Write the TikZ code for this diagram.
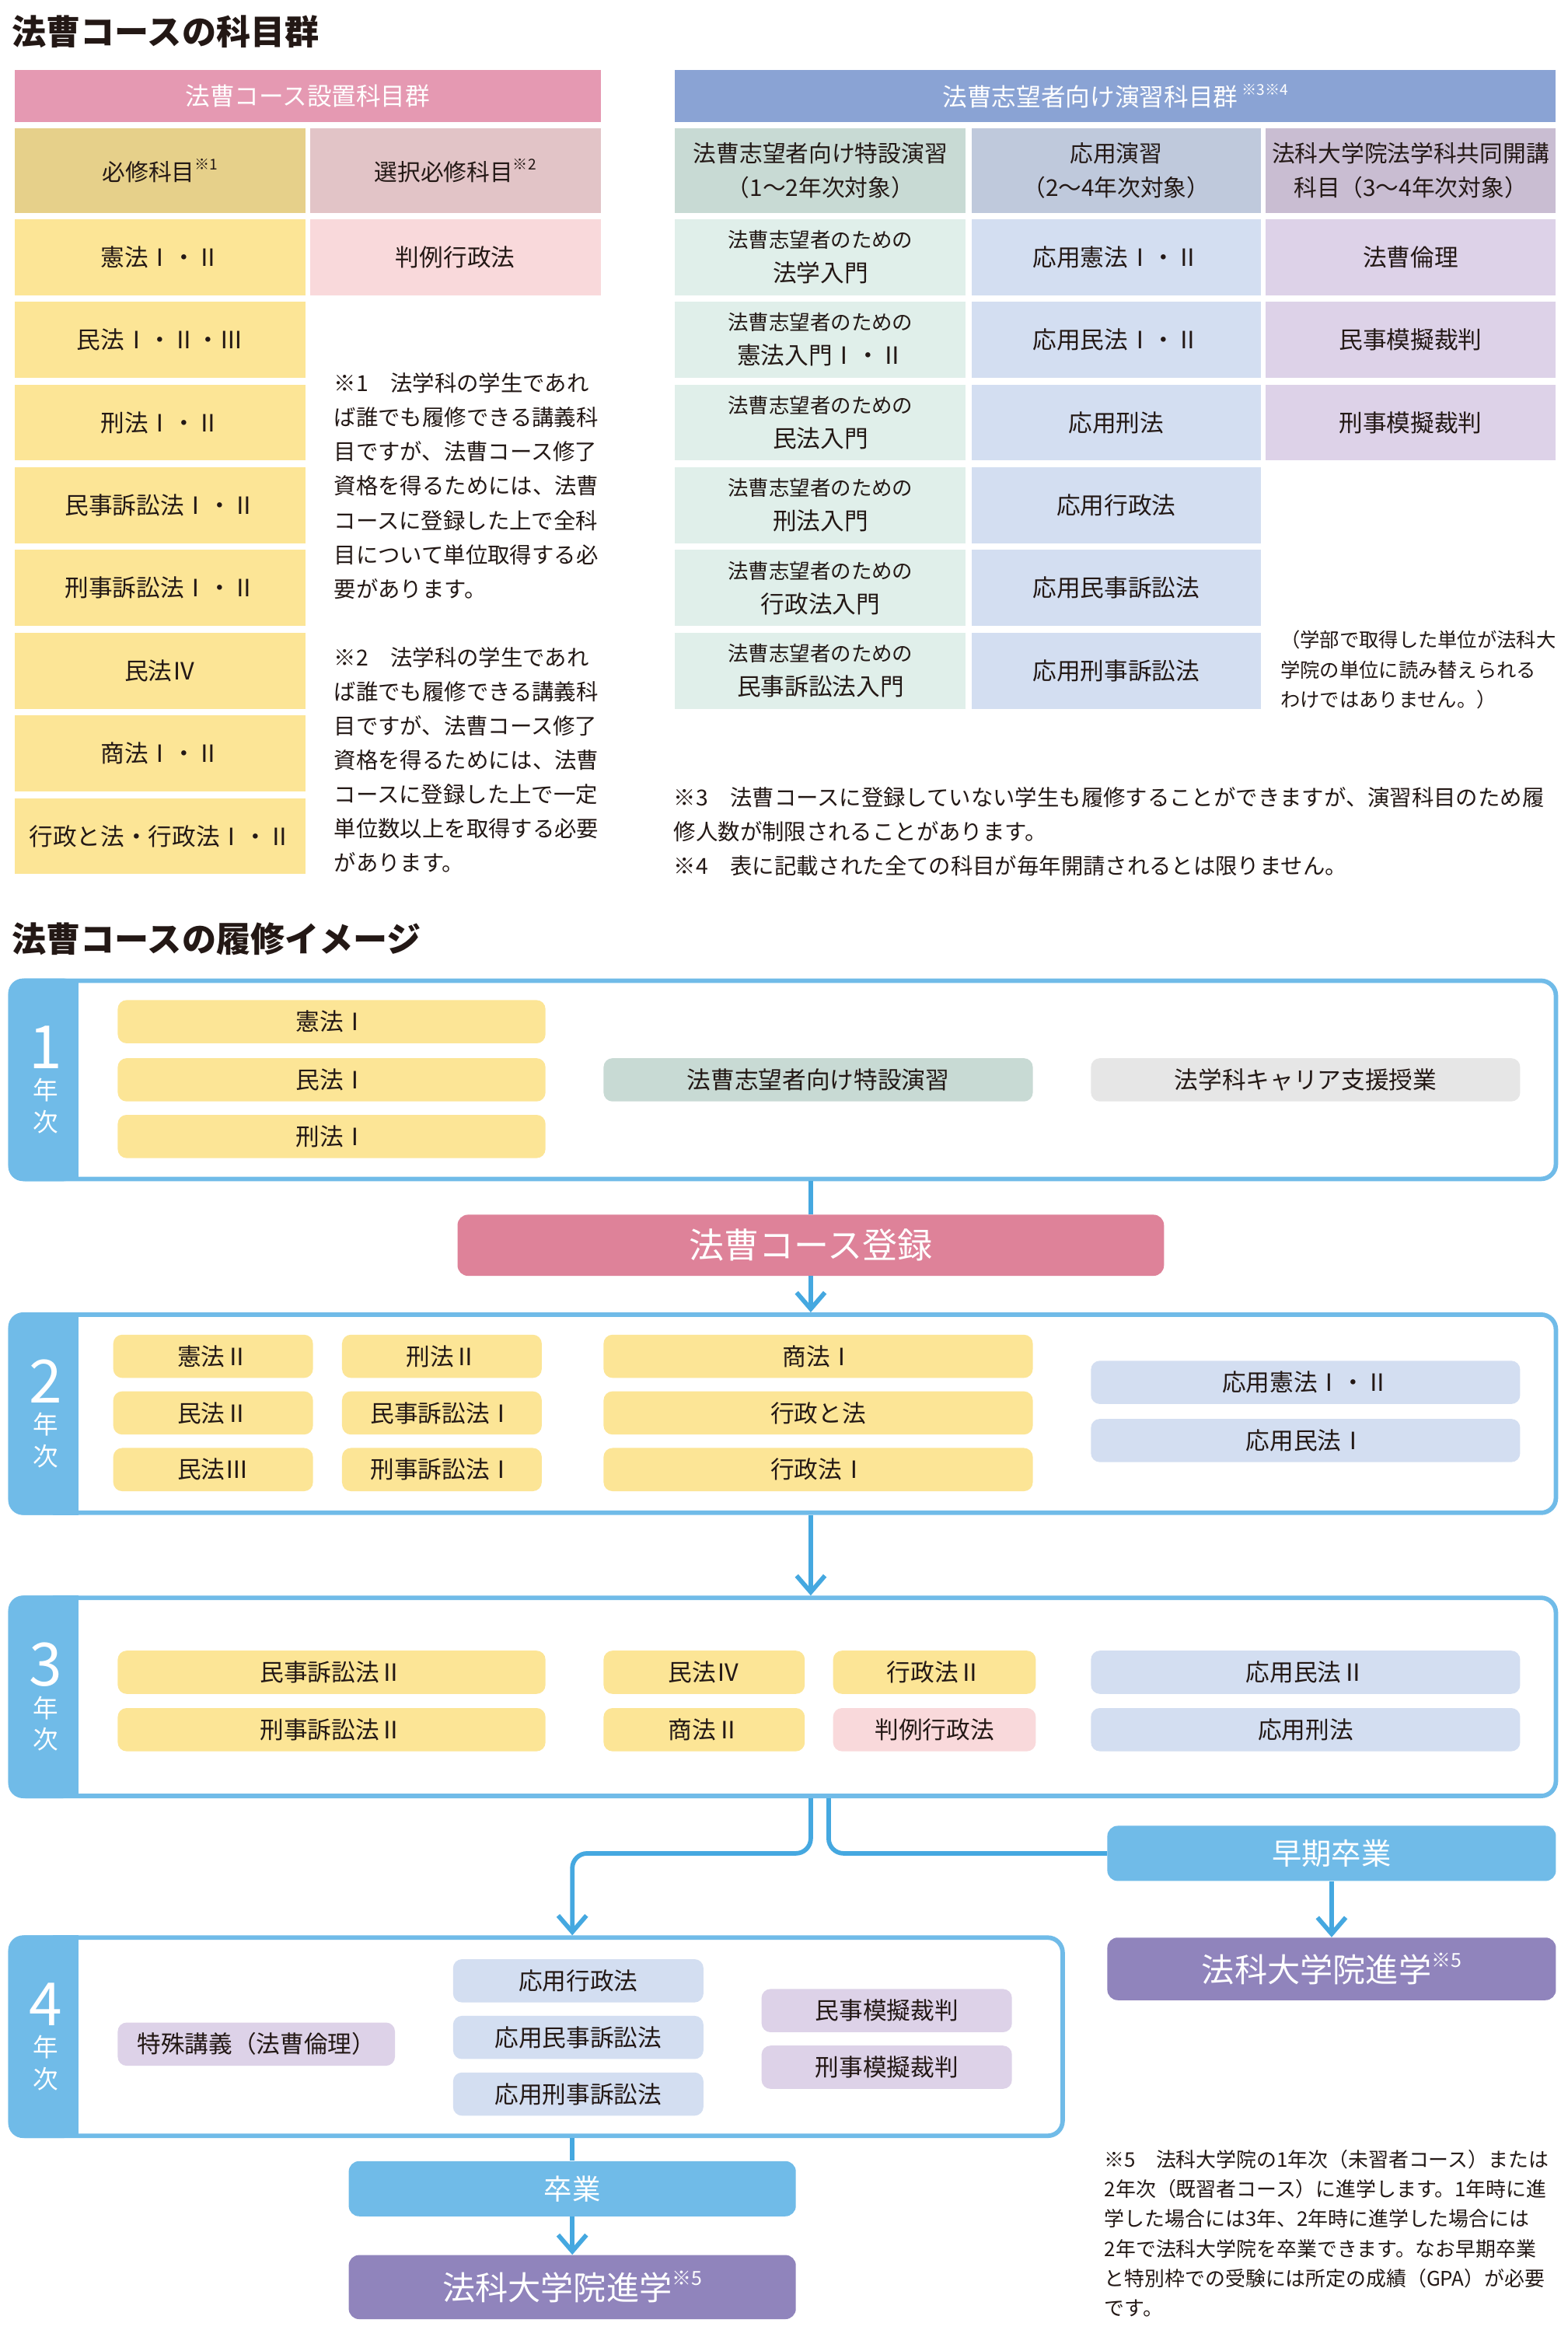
\documentclass[tikz,border=0pt]{standalone}
\usepackage{fontspec}
\setmainfont{Noto Sans CJK JP}
\usepackage{xcolor}
\usepackage{tikz}
\definecolor{ink}{HTML}{231815}
\definecolor{hdpink}{HTML}{E599B2}
\definecolor{hdblue}{HTML}{8AA3D4}
\definecolor{reqhead}{HTML}{E6D08A}
\definecolor{selhead}{HTML}{E2C4C7}
\definecolor{reqcell}{HTML}{FCE596}
\definecolor{selcell}{HTML}{F9D9DB}
\definecolor{enshead}{HTML}{C8DAD4}
\definecolor{apphead}{HTML}{BFC9DC}
\definecolor{jnthead}{HTML}{C9BDD2}
\definecolor{enscell}{HTML}{E0EFEA}
\definecolor{appcell}{HTML}{D3DEF1}
\definecolor{jntcell}{HTML}{DDD2E8}
\definecolor{careercell}{HTML}{E6E6E6}
\definecolor{band}{HTML}{70BBE8}
\definecolor{flowblue}{HTML}{45A8E0}
\definecolor{regpink}{HTML}{DE8299}
\definecolor{lspurple}{HTML}{9084BC}
\usetikzlibrary{arrows.meta, positioning, calc}
\newcommand{\noteref}[2][10]{\raisebox{.45em}{\fontsize{#1}{#1}\selectfont #2}}

\begin{document}
\begin{tikzpicture}[x=1pt, y=-1pt,
  every node/.style={text=ink, inner sep=0pt},
  hd/.style={text=white, minimum height=35pt, font=\fontsize{16.5}{20}\selectfont},
  cellhd/.style={minimum height=57pt, align=center, font=\fontsize{15.5}{23}\selectfont},
  cell/.style={minimum height=51pt, align=center, font=\fontsize{16}{23}\selectfont},
  note/.style={anchor=north west, align=left, font=\fontsize{14.8}{23}\selectfont},
  pill/.style={rounded corners=6pt, minimum height=29pt, font=\fontsize{16}{16}\selectfont},
  yearbox/.style={draw=band, line width=3pt, fill=white, rounded corners=10pt},
  yearlab/.style={text=white, align=center, font=\fontsize{17}{21}\selectfont},
  bigbox/.style={rounded corners=7pt, text=white},
  flow/.style={draw=flowblue, line width=3pt},
  arrowed/.style={-{Straight Barb[length=11pt,width=19pt]}}
]
\useasboundingbox (0,0) rectangle (1052,1568);
\fill[white] (0,0) rectangle (1052,1568);

% ---- subject tables ----
\node[anchor=west, font=\fontsize{23}{23}\selectfont\bfseries] (title1) at (8,21) {法曹コースの科目群};

% left table
\node[hd, fill=hdpink, minimum width=393pt] (sethd) at (206.5,64.5) {法曹コース設置科目群};
\node[cellhd, fill=reqhead, minimum width=195pt] (reqhd) at (107.5,114.5) {必修科目\noteref{※1}};
\node[cellhd, fill=selhead, minimum width=195pt] (selhd) at (305.5,114.5) {選択必修科目\noteref{※2}};
\node[cell, fill=reqcell, minimum width=195pt] (req1) at (107.5,172.5) {憲法Ⅰ・Ⅱ};
\node[cell, fill=reqcell, minimum width=195pt] (req2) at (107.5,228) {民法Ⅰ・Ⅱ・Ⅲ};
\node[cell, fill=reqcell, minimum width=195pt] (req3) at (107.5,283.5) {刑法Ⅰ・Ⅱ};
\node[cell, fill=reqcell, minimum width=195pt] (req4) at (107.5,339) {民事訴訟法Ⅰ・Ⅱ};
\node[cell, fill=reqcell, minimum width=195pt] (req5) at (107.5,394.5) {刑事訴訟法Ⅰ・Ⅱ};
\node[cell, fill=reqcell, minimum width=195pt] (req6) at (107.5,450) {民法Ⅳ};
\node[cell, fill=reqcell, minimum width=195pt] (req7) at (107.5,505.5) {商法Ⅰ・Ⅱ};
\node[cell, fill=reqcell, minimum width=195pt] (req8) at (107.5,561) {行政と法・行政法Ⅰ・Ⅱ};
\node[cell, fill=selcell, minimum width=195pt] (sel1) at (305.5,172.5) {判例行政法};

\node[note] (note1) at (224,250) {※1　法学科の学生であれ\\ば誰でも履修できる講義科\\目ですが、法曹コース修了\\資格を得るためには、法曹\\コースに登録した上で全科\\目について単位取得する必\\要があります。};
\node[note] (note2) at (224,434) {※2　法学科の学生であれ\\ば誰でも履修できる講義科\\目ですが、法曹コース修了\\資格を得るためには、法曹\\コースに登録した上で一定\\単位数以上を取得する必要\\があります。};

% right table
\node[hd, fill=hdblue, minimum width=591pt] (enshd) at (748.5,64.5) {法曹志望者向け演習科目群\,\noteref{※3※4}};
\node[cellhd, fill=enshead, minimum width=195pt] (colA) at (550.5,114.5) {法曹志望者向け特設演習\\（1～2年次対象）};
\node[cellhd, fill=apphead, minimum width=194pt] (colB) at (749,114.5) {応用演習\\（2～4年次対象）};
\node[cellhd, fill=jnthead, minimum width=195pt] (colC) at (946.5,114.5) {法科大学院法学科共同開講\\科目（3～4年次対象）};

\node[cell, fill=enscell, minimum width=195pt] (ens1) at (550.5,172.5) {{\fontsize{13.8}{23}\selectfont 法曹志望者のための}\\法学入門};
\node[cell, fill=enscell, minimum width=195pt] (ens2) at (550.5,228) {{\fontsize{13.8}{23}\selectfont 法曹志望者のための}\\憲法入門Ⅰ・Ⅱ};
\node[cell, fill=enscell, minimum width=195pt] (ens3) at (550.5,283.5) {{\fontsize{13.8}{23}\selectfont 法曹志望者のための}\\民法入門};
\node[cell, fill=enscell, minimum width=195pt] (ens4) at (550.5,339) {{\fontsize{13.8}{23}\selectfont 法曹志望者のための}\\刑法入門};
\node[cell, fill=enscell, minimum width=195pt] (ens5) at (550.5,394.5) {{\fontsize{13.8}{23}\selectfont 法曹志望者のための}\\行政法入門};
\node[cell, fill=enscell, minimum width=195pt] (ens6) at (550.5,450) {{\fontsize{13.8}{23}\selectfont 法曹志望者のための}\\民事訴訟法入門};

\node[cell, fill=appcell, minimum width=194pt] (app1) at (749,172.5) {応用憲法Ⅰ・Ⅱ};
\node[cell, fill=appcell, minimum width=194pt] (app2) at (749,228) {応用民法Ⅰ・Ⅱ};
\node[cell, fill=appcell, minimum width=194pt] (app3) at (749,283.5) {応用刑法};
\node[cell, fill=appcell, minimum width=194pt] (app4) at (749,339) {応用行政法};
\node[cell, fill=appcell, minimum width=194pt] (app5) at (749,394.5) {応用民事訴訟法};
\node[cell, fill=appcell, minimum width=194pt] (app6) at (749,450) {応用刑事訴訟法};

\node[cell, fill=jntcell, minimum width=195pt] (jnt1) at (946.5,172.5) {法曹倫理};
\node[cell, fill=jntcell, minimum width=195pt] (jnt2) at (946.5,228) {民事模擬裁判};
\node[cell, fill=jntcell, minimum width=195pt] (jnt3) at (946.5,283.5) {刑事模擬裁判};

\node[note, font=\fontsize{13.2}{20}\selectfont] (jntnote) at (859,423) {（学部で取得した単位が法科大\\学院の単位に読み替えられる\\わけではありません。）};
\node[note] (note34) at (452,528) {※3　法曹コースに登録していない学生も履修することができますが、演習科目のため履\\修人数が制限されることがあります。\\※4　表に記載された全ての科目が毎年開請されるとは限りません。};

% ---- study plan ----
\node[anchor=west, font=\fontsize{23}{23}\selectfont\bfseries] (title2) at (8,630) {法曹コースの履修イメージ};

% year 1
\node[yearbox, minimum width=1037pt, minimum height=133pt] (year1) at (525.5,724.5) {};
\fill[band, rounded corners=10pt] (year1.north west) rectangle ([xshift=47pt]year1.south west);
\fill[band] ([xshift=30pt]year1.north west) rectangle ([xshift=47pt]year1.south west);
\node[yearlab] (lab1) at (30.5,724.5) {\fontsize{40}{21}\selectfont 1\\\fontsize{17}{21}\selectfont 年\\次};
\node[pill, fill=reqcell, minimum width=287pt] (y1a) at (222.5,685.5) {憲法Ⅰ};
\node[pill, fill=reqcell, minimum width=287pt] (y1b) at (222.5,724.5) {民法Ⅰ};
\node[pill, fill=reqcell, minimum width=287pt] (y1c) at (222.5,762.5) {刑法Ⅰ};
\node[pill, fill=enshead, minimum width=288pt] (y1d) at (549,724.5) {法曹志望者向け特設演習};
\node[pill, fill=careercell, minimum width=288pt] (y1e) at (876,724.5) {法学科キャリア支援授業};

% registration
\node[bigbox, fill=regpink, minimum width=474pt, minimum height=41pt, font=\fontsize{23.5}{23.5}\selectfont] (reg) at (544,835.5) {法曹コース登録};

% year 2
\node[yearbox, minimum width=1037pt, minimum height=133pt] (year2) at (525.5,948.5) {};
\fill[band, rounded corners=10pt] (year2.north west) rectangle ([xshift=47pt]year2.south west);
\fill[band] ([xshift=30pt]year2.north west) rectangle ([xshift=47pt]year2.south west);
\node[yearlab] (lab2) at (30.5,948.5) {\fontsize{40}{21}\selectfont 2\\\fontsize{17}{21}\selectfont 年\\次};
\node[pill, fill=reqcell, minimum width=134pt] (y2a) at (143,910) {憲法Ⅱ};
\node[pill, fill=reqcell, minimum width=134pt] (y2b) at (143,948) {民法Ⅱ};
\node[pill, fill=reqcell, minimum width=134pt] (y2c) at (143,986) {民法Ⅲ};
\node[pill, fill=reqcell, minimum width=134pt] (y2d) at (296.5,910) {刑法Ⅱ};
\node[pill, fill=reqcell, minimum width=134pt] (y2e) at (296.5,948) {民事訴訟法Ⅰ};
\node[pill, fill=reqcell, minimum width=134pt] (y2f) at (296.5,986) {刑事訴訟法Ⅰ};
\node[pill, fill=reqcell, minimum width=288pt] (y2g) at (549,910) {商法Ⅰ};
\node[pill, fill=reqcell, minimum width=288pt] (y2h) at (549,948) {行政と法};
\node[pill, fill=reqcell, minimum width=288pt] (y2i) at (549,986) {行政法Ⅰ};
\node[pill, fill=appcell, minimum width=288pt] (y2j) at (876,927.5) {応用憲法Ⅰ・Ⅱ};
\node[pill, fill=appcell, minimum width=288pt] (y2k) at (876,966.5) {応用民法Ⅰ};

% year 3
\node[yearbox, minimum width=1037pt, minimum height=133pt] (year3) at (525.5,1138.5) {};
\fill[band, rounded corners=10pt] (year3.north west) rectangle ([xshift=47pt]year3.south west);
\fill[band] ([xshift=30pt]year3.north west) rectangle ([xshift=47pt]year3.south west);
\node[yearlab] (lab3) at (30.5,1138.5) {\fontsize{40}{21}\selectfont 3\\\fontsize{17}{21}\selectfont 年\\次};
\node[pill, fill=reqcell, minimum width=287pt] (y3a) at (222.5,1122) {民事訴訟法Ⅱ};
\node[pill, fill=reqcell, minimum width=287pt] (y3b) at (222.5,1160.5) {刑事訴訟法Ⅱ};
\node[pill, fill=reqcell, minimum width=135pt] (y3c) at (472.5,1122) {民法Ⅳ};
\node[pill, fill=reqcell, minimum width=135pt] (y3d) at (472.5,1160.5) {商法Ⅱ};
\node[pill, fill=reqcell, minimum width=136pt] (y3e) at (627,1122) {行政法Ⅱ};
\node[pill, fill=selcell, minimum width=136pt] (y3f) at (627,1160.5) {判例行政法};
\node[pill, fill=appcell, minimum width=288pt] (y3g) at (876,1122) {応用民法Ⅱ};
\node[pill, fill=appcell, minimum width=288pt] (y3h) at (876,1160.5) {応用刑法};

% early graduation
\node[bigbox, fill=band, minimum width=301pt, minimum height=37pt, font=\fontsize{20}{20}\selectfont] (early) at (893.5,1243.5) {早期卒業};
\node[bigbox, fill=lspurple, minimum width=301pt, minimum height=42pt, font=\fontsize{22}{22}\selectfont] (ls1) at (893.5,1321) {法科大学院進学\noteref[13]{※5}};

% year 4
\node[yearbox, minimum width=706pt, minimum height=133pt] (year4) at (360,1366.5) {};
\fill[band, rounded corners=10pt] (year4.north west) rectangle ([xshift=47pt]year4.south west);
\fill[band] ([xshift=30pt]year4.north west) rectangle ([xshift=47pt]year4.south west);
\node[yearlab] (lab4) at (30.5,1366.5) {\fontsize{40}{21}\selectfont 4\\\fontsize{17}{21}\selectfont 年\\次};
\node[pill, fill=jntcell, minimum width=186pt] (y4a) at (172,1371.5) {特殊講義（法曹倫理）};
\node[pill, fill=appcell, minimum width=168pt] (y4b) at (388,1329) {応用行政法};
\node[pill, fill=appcell, minimum width=168pt] (y4c) at (388,1367) {応用民事訴訟法};
\node[pill, fill=appcell, minimum width=168pt] (y4d) at (388,1405) {応用刑事訴訟法};
\node[pill, fill=jntcell, minimum width=168pt] (y4e) at (595,1349) {民事模擬裁判};
\node[pill, fill=jntcell, minimum width=168pt] (y4f) at (595,1387) {刑事模擬裁判};

% graduation
\node[bigbox, fill=band, minimum width=300pt, minimum height=37pt, font=\fontsize{19}{19}\selectfont] (grad) at (384,1468.5) {卒業};
\node[bigbox, fill=lspurple, minimum width=300pt, minimum height=43pt, font=\fontsize{22}{22}\selectfont] (ls2) at (384,1534.5) {法科大学院進学\noteref[13]{※5}};

\node[note, font=\fontsize{13.5}{20}\selectfont] (note5) at (741,1442) {※5　法科大学院の1年次（未習者コース）または\\2年次（既習者コース）に進学します。1年時に進\\学した場合には3年、2年時に進学した場合には\\2年で法科大学院を卒業できます。なお早期卒業\\と特別枠での受験には所定の成績（GPA）が必要\\です。};

% connectors
\draw[flow] (year1.south -| reg.north) -- (reg.north);
\draw[flow, arrowed] (reg.south) -- (reg.south |- year2.north);
\draw[flow, arrowed] (year2.south -| reg.south) -- (reg.south |- year3.north);
\draw[flow, arrowed, rounded corners=10pt] (year3.south -| reg.south) |- (early.west -| grad.north) -- (grad.north |- year4.north);
\draw[flow, rounded corners=10pt] ($(year3.south -| reg.south)+(12,0)$) |- (early.west);
\draw[flow, arrowed] (early.south) -- (ls1.north);
\draw[flow] (grad.north |- year4.south) -- (grad.north);
\draw[flow, arrowed] (grad.south) -- (ls2.north);
\end{tikzpicture}
\end{document}
